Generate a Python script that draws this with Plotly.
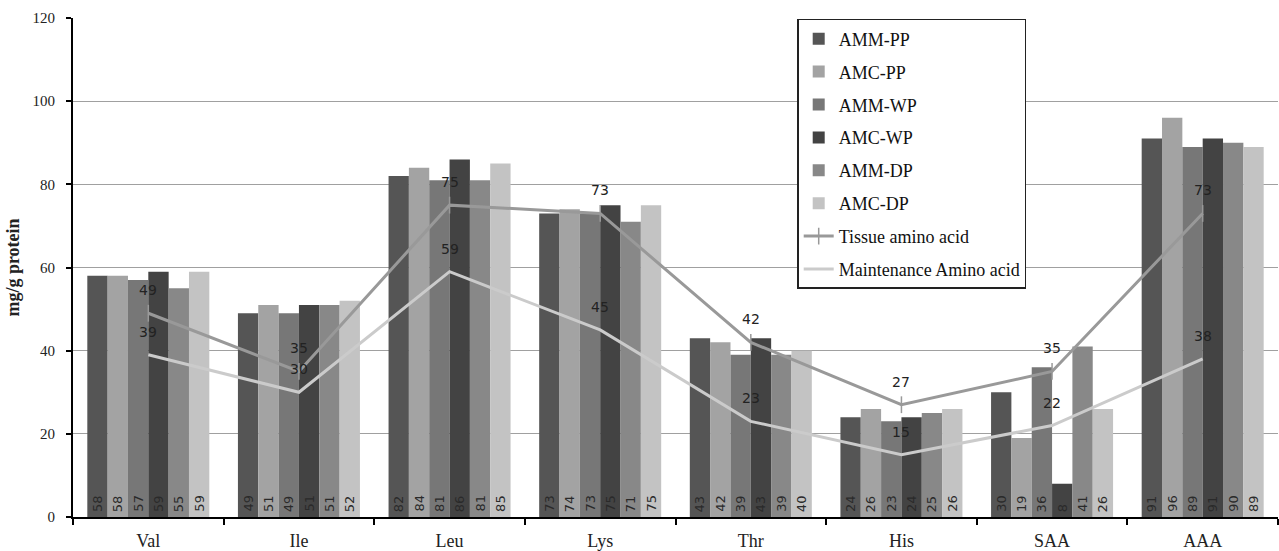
import plotly.graph_objects as go

# Essential amino acids (x categories)
amino_acids = ["Val", "Ile", "Leu", "Lys", "Thr", "His", "SAA", "AAA"]

# Bar series, mg/g protein
amm_pp = [58, 49, 82, 73, 43, 24, 30, 91]
amc_pp = [58, 51, 84, 74, 42, 26, 19, 96]
amm_wp = [57, 49, 81, 73, 39, 23, 36, 89]
amc_wp = [59, 51, 86, 75, 43, 24, 8, 91]
amm_dp = [55, 51, 81, 71, 39, 25, 41, 90]
amc_dp = [59, 52, 85, 75, 40, 26, 26, 89]

# Reference requirement lines
tissue_aa = [49, 35, 75, 73, 42, 27, 35, 73]
maintenance_aa = [39, 30, 59, 45, 23, 15, 22, 38]

bar_series = [
    ("AMM-PP", amm_pp, "#555555"),
    ("AMC-PP", amc_pp, "#a3a3a3"),
    ("AMM-WP", amm_wp, "#777777"),
    ("AMC-WP", amc_wp, "#434343"),
    ("AMM-DP", amm_dp, "#888888"),
    ("AMC-DP", amc_dp, "#c3c3c3"),
]

SERIF = "Liberation Serif"
SANS = "DejaVu Sans"

WIDTH, HEIGHT = 1279, 551
MARGIN = dict(l=73, r=1, t=18, b=34)
BARGAP = 0.19

fig = go.Figure()

for i, (name, vals, color) in enumerate(bar_series):
    fig.add_trace(go.Bar(
        name=name,
        x=amino_acids,
        y=vals,
        marker=dict(color=color, line=dict(width=0)),
        legendgroup=f"g{i}",
    ))

fig.add_trace(go.Scatter(
    name="Tissue amino acid",
    x=amino_acids,
    y=tissue_aa,
    mode="lines+markers",
    line=dict(color="#999999", width=3),
    marker=dict(symbol="line-ns", size=12, color="#999999",
                line=dict(color="#999999", width=1.5)),
    legendgroup="g6",
))

fig.add_trace(go.Scatter(
    name="Maintenance Amino acid",
    x=amino_acids,
    y=maintenance_aa,
    mode="lines",
    line=dict(color="#cbcbcb", width=3),
    legendgroup="g7",
))

# Rotated value labels at the foot of each bar, shifted to its slot in the group
plot_w = WIDTH - MARGIN["l"] - MARGIN["r"]
slot_w = plot_w / len(amino_acids)
bar_w = slot_w * (1 - BARGAP) / len(bar_series)
for i, (_, vals, _) in enumerate(bar_series):
    offset = (i - (len(bar_series) - 1) / 2) * bar_w
    for cat, v in zip(amino_acids, vals):
        fig.add_annotation(
            x=cat, y=0, text=str(v), showarrow=False,
            textangle=-90, xanchor="center", yanchor="bottom",
            xshift=offset, yshift=3,
            font=dict(family=SANS, size=13, color="#2a2a2a"),
        )

# Value labels above the two requirement lines
for series in (tissue_aa, maintenance_aa):
    for cat, v in zip(amino_acids, series):
        fig.add_annotation(
            x=cat, y=v, text=str(v), showarrow=False,
            yshift=23, xanchor="center", yanchor="middle",
            font=dict(family=SANS, size=14, color="#222222"),
        )

fig.update_layout(
    width=WIDTH,
    height=HEIGHT,
    margin=MARGIN,
    paper_bgcolor="white",
    plot_bgcolor="white",
    barmode="group",
    bargap=BARGAP,
    bargroupgap=0,
    font=dict(family=SERIF, size=15, color="#222222"),
    showlegend=True,
    legend=dict(
        x=0.601, y=0.998, xanchor="left", yanchor="top",
        bgcolor="white",
        bordercolor="#222222",
        borderwidth=1.5,
        font=dict(family=SERIF, size=18, color="#111111"),
        tracegroupgap=6.5,
        traceorder="grouped",
        itemwidth=30,
    ),
    xaxis=dict(
        type="category",
        showline=True,
        linecolor="black",
        linewidth=2,
        ticks="outside",
        tickson="boundaries",
        ticklen=6,
        tickwidth=2,
        tickcolor="black",
        ticklabelstandoff=6,
        tickfont=dict(family=SERIF, size=18, color="#222222"),
        showgrid=False,
    ),
    yaxis=dict(
        range=[0, 120],
        dtick=20,
        showline=True,
        linecolor="black",
        linewidth=2,
        ticks="outside",
        ticklen=5,
        tickwidth=1.5,
        tickcolor="black",
        ticklabelstandoff=8,
        showgrid=True,
        gridcolor="#a0a0a0",
        gridwidth=1,
        zeroline=False,
        tickfont=dict(family=SERIF, size=15, color="#222222"),
        title=dict(text="<b>mg/g protein</b>",
                   font=dict(family=SERIF, size=18, color="#222222"),
                   standoff=8),
    ),
)

fig.write_html("out.html")
